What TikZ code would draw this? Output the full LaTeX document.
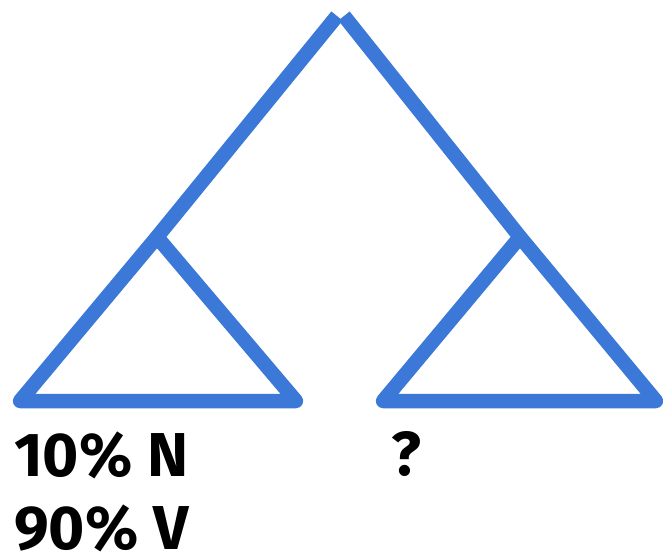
\documentclass[tikz,border=0pt]{standalone}
\usepackage{fontspec}
\setmainfont{Fira Sans}
\definecolor{treeblue}{HTML}{3C78D8}
\begin{document}
\begin{tikzpicture}[x=1pt,y=-1pt,
  branch/.style={draw=treeblue,line width=14.5pt,line join=round,line cap=round},
  stem/.style={draw=treeblue,line width=14.5pt,line cap=butt},
  lbl/.style={inner sep=0pt,anchor=base west,font=\fontsize{62}{62}\selectfont\bfseries}]
\useasboundingbox (0,0) rectangle (663,553);
\coordinate (apexL) at (337,16);
\coordinate (apexR) at (344,16);
\coordinate (jl) at (157,237);
\coordinate (jr) at (520,237);
\coordinate (ll) at (20,401);
\coordinate (lr) at (296,401);
\coordinate (rl) at (383,401);
\coordinate (rr) at (656,401);
\draw[stem] (apexL) -- (jl);
\draw[stem] (apexR) -- (jr);
\draw[branch] (jl) -- (ll) -- (lr) -- cycle;
\draw[branch] (jr) -- (rl) -- (rr) -- cycle;
\node[lbl] (n1) at (14,476) {10\% N};
\node[lbl] (n2) at (14,549) {90\% V};
\node[lbl] (q) at (391,475) {?};
\end{tikzpicture}
\end{document}
